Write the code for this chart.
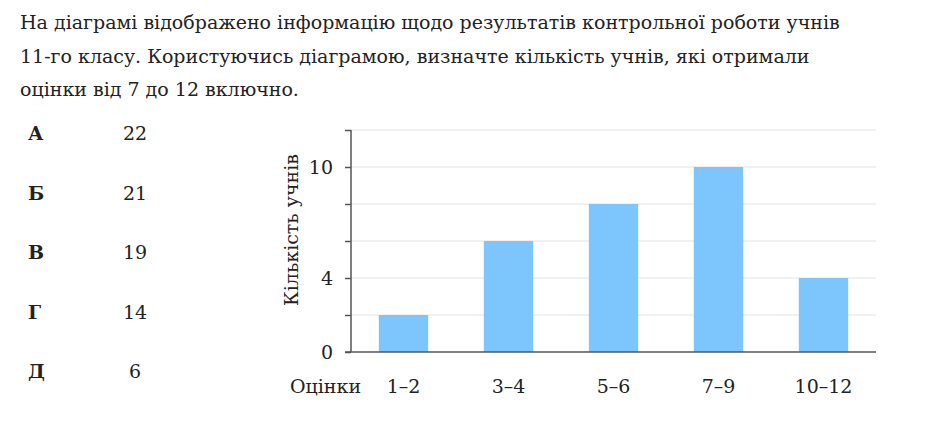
<!DOCTYPE html>
<html>
<head>
<meta charset="utf-8">
<script src="https://cdn.jsdelivr.net/npm/d3@7"></script>
<style>
  body { margin: 0; background: #fff; }
  text { font-family: 'DejaVu Serif', 'Liberation Serif', serif; fill: #222; }
</style>
</head>
<body>
<div id="chart"></div>
<script>
const width = 940
const height = 429

// question text
const questionLines = [
  'На діаграмі відображено інформацію щодо результатів контрольної роботи учнів',
  '11-го класу. Користуючись діаграмою, визначте кількість учнів, які отримали',
  'оцінки від 7 до 12 включно.'
]

// answer options
const answerLetters = ['А', 'Б', 'В', 'Г', 'Д']
const answerValues = ['22', '21', '19', '14', '6']

// chart data
const grades = ['1–2', '3–4', '5–6', '7–9', '10–12']
const counts = [2, 6, 8, 10, 4]
const gridValues = [2, 4, 6, 8, 10, 12]
const tickLabels = [0, 4, 10]

const svg = d3
  .select('#chart')
  .append('svg')
  .attr('width', width)
  .attr('height', height)

// text block
svg
  .selectAll('.qline')
  .data(questionLines)
  .enter()
  .append('text')
  .attr('class', 'qline')
  .attr('x', 20)
  .attr('y', (d, i) => 29 + i * 33.5)
  .attr('font-size', 19)
  .text(d => d)

svg
  .selectAll('.letter')
  .data(answerLetters)
  .enter()
  .append('text')
  .attr('class', 'letter')
  .attr('x', 28)
  .attr('y', (d, i) => 140 + i * 59.5)
  .attr('font-size', 19)
  .attr('font-weight', 'bold')
  .text(d => d)

svg
  .selectAll('.answer')
  .data(answerValues)
  .enter()
  .append('text')
  .attr('class', 'answer')
  .attr('x', 135)
  .attr('y', (d, i) => 140 + i * 59.5)
  .attr('text-anchor', 'middle')
  .attr('font-size', 19)
  .text(d => d)

// scales
const x = d3
  .scaleBand()
  .domain(grades)
  .range([351, 876])
  .paddingInner(0.53)
  .paddingOuter(0.265)

const y = d3
  .scaleLinear()
  .domain([0, 12])
  .range([352, 130])

// grid
svg
  .selectAll('.grid')
  .data(gridValues)
  .enter()
  .append('line')
  .attr('class', 'grid')
  .attr('x1', 351)
  .attr('x2', 876)
  .attr('y1', d => y(d))
  .attr('y2', d => y(d))
  .attr('stroke', '#e4e4e4')
  .attr('stroke-width', 1.2)

// bars
svg
  .selectAll('.bar')
  .data(counts)
  .enter()
  .append('rect')
  .attr('class', 'bar')
  .attr('x', (d, i) => x(grades[i]))
  .attr('width', x.bandwidth())
  .attr('y', d => y(d))
  .attr('height', d => y(0) - y(d))
  .attr('fill', '#7cc5fd')

// y axis
const yAxis = d3
  .axisLeft(y)
  .tickValues(gridValues.concat([0]))
  .tickSize(6)
  .tickFormat(d => (tickLabels.includes(d) ? d : ''))

const gy = svg
  .append('g')
  .attr('transform', 'translate(351,0)')
  .call(yAxis)
gy.select('.domain').attr('stroke', '#555').attr('stroke-width', 1.5).attr('d', 'M0,130V352')
gy.selectAll('.tick line').attr('stroke', '#555').attr('stroke-width', 1.5)
gy.selectAll('.tick text')
  .attr('x', -18)
  .attr('font-size', 19)
  .attr('font-family', "'DejaVu Serif', serif")
  .attr('fill', '#222')

// x axis line
svg
  .append('line')
  .attr('x1', 345)
  .attr('x2', 876)
  .attr('y1', y(0))
  .attr('y2', y(0))
  .attr('stroke', '#555')
  .attr('stroke-width', 1.5)

// x labels
svg
  .selectAll('.xlabel')
  .data(grades)
  .enter()
  .append('text')
  .attr('class', 'xlabel')
  .attr('x', d => x(d) + x.bandwidth() / 2)
  .attr('y', 393)
  .attr('text-anchor', 'middle')
  .attr('font-size', 19)
  .text(d => d)

svg
  .append('text')
  .attr('x', 290)
  .attr('y', 393)
  .attr('font-size', 19)
  .text('Оцінки')

svg
  .append('text')
  .attr('transform', 'translate(298,230) rotate(-90)')
  .attr('text-anchor', 'middle')
  .attr('font-size', 19)
  .text('Кількість учнів')
</script>
</body>
</html>
